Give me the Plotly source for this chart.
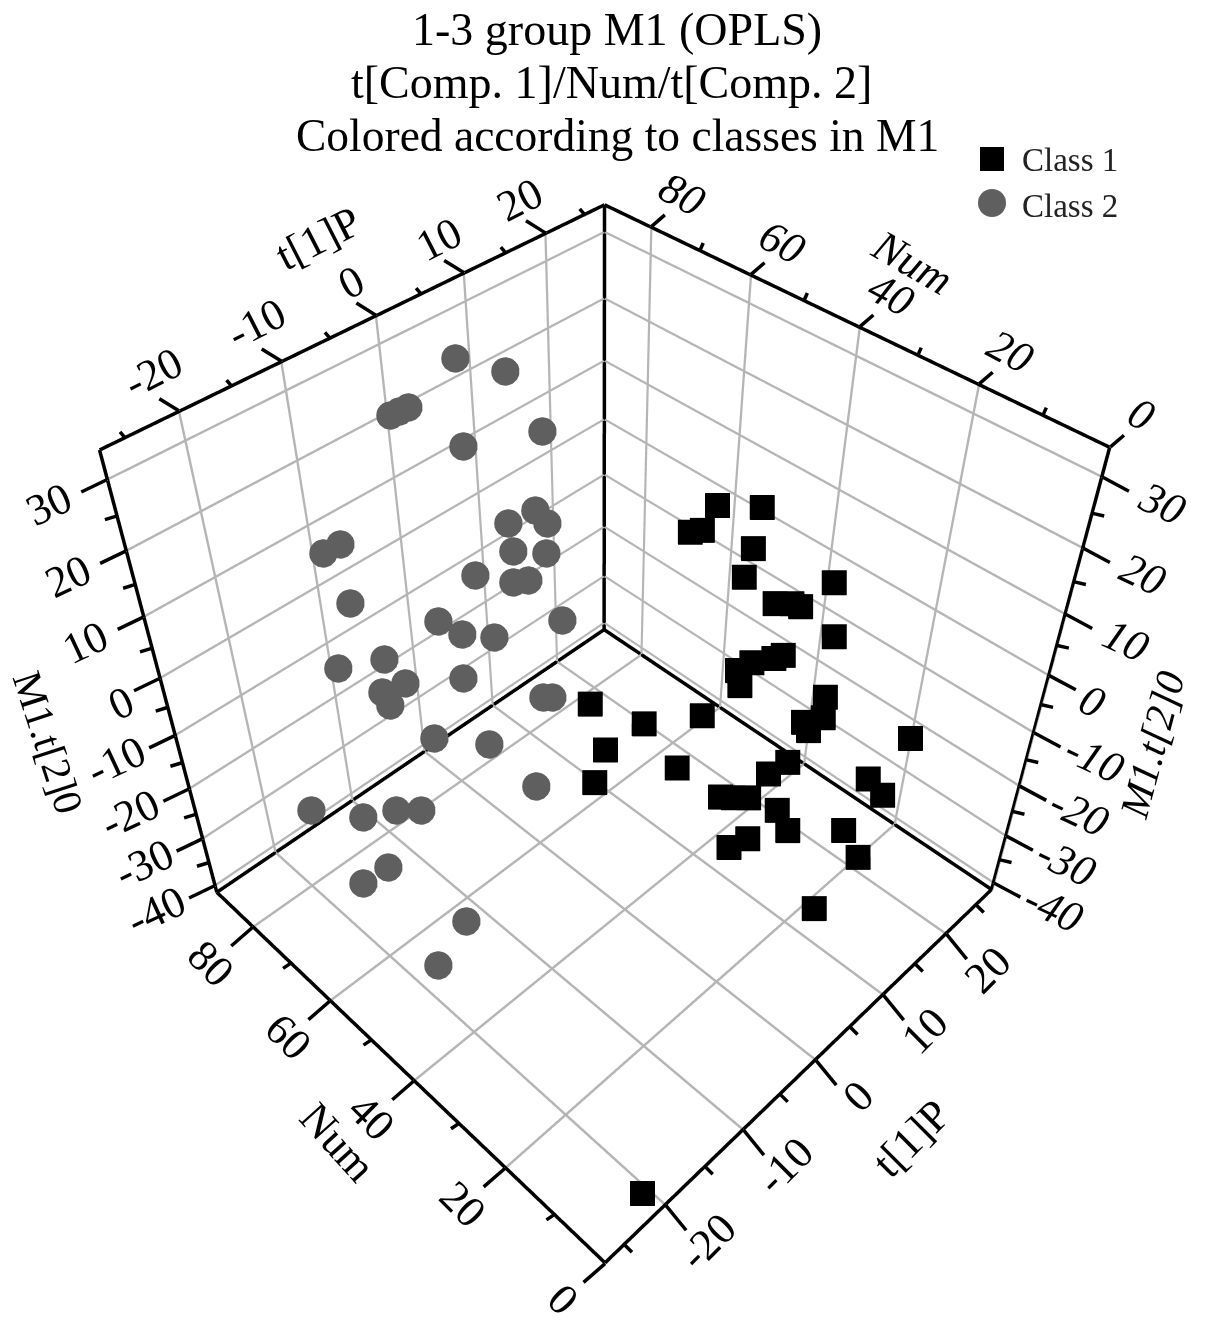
import plotly.graph_objects as go

W, H = 1205, 1329
T_RANGE = [-27.3, 27.7]
NUM_RANGE = [0.0, 90.0]
Z_RANGE = [-41.5, 34.0]

class1_t = [14.4,15.4,12.5,12.9,13.4,12.0,14.0,11.7,12.2,12.1,11.8,9.9,9.6,8.9,8.3,7.8,10.7,10.7,9.6,9.9,16.8,14.2,15.5,-1.1,0.5,4.8,-4.1,-7.4,-1.3,8.4,6.0,0.5,1.6,3.0,5.1,5.2,10.9,1.0,-1.1,11.4,4.7,-21.8]
class1_num = [45.5,38.7,47.7,46.0,37.1,36.5,23.5,30.3,26.5,27.9,19.9,25.8,27.0,29.9,31.6,30.3,18.8,18.7,20.7,20.0,10.1,13.3,11.7,45.9,37.6,32.8,37.9,34.6,28.4,21.2,21.5,22.7,21.9,20.9,18.2,16.1,12.7,17.9,18.4,10.0,9.2,1.8]
class1_z = [15.2,17.3,11.5,12.3,13.4,10.4,14.5,9.7,10.8,10.6,10.0,5.5,4.6,2.9,1.2,-0.1,1.9,-1.5,-2.4,-3.7,-6.0,-12.6,-16.0,-3.8,-3.8,-3.8,-3.8,-3.8,-3.8,-8.5,-8.2,-7.1,-7.9,-8.8,-11.6,-14.0,-18.2,-11.9,-11.4,-22.1,-23.4,-37.3]
class2_t = [4.35,8.13,-4.13,-2.23,-3.19,0.6,8.58,1.2,4.31,4.92,0.49,3.58,-4.01,-0.77,0.75,-15.85,-14.13,-15.8,2.57,-9.15,-7.52,-4.69,-18.25,-15.24,-9.08,-15.88,-14.38,-15.5,-12.92,-3.48,-2.92,-10.7,-11.11,-21.17,-18.98,-17.45,-16.53,-20.2,-21.74,-19.67,-22.36]
class2_num = [81.97,78.41,79.92,79.79,79.85,74.03,71.67,66.31,66.07,64.66,64.18,62.68,64.14,62.14,61.66,71.91,71.85,67.32,57.82,62.66,60.91,59.47,66.44,62.4,58.25,62.39,60.16,61.79,58.07,51.65,50.72,50.24,39.89,72.39,64.13,59.03,54.98,56.38,59.75,40.08,41.82]
class2_z = [28.39,25.48,26.75,26.64,26.7,21.47,19.07,12.89,12.59,10.75,10.1,8.0,10.05,7.22,6.5,19.32,19.27,14.15,0.31,7.97,5.36,3.09,6.69,7.6,1.05,2.86,4.2,0.67,-5.32,-3.75,-3.75,-3.75,-3.92,-19.01,-17.16,-14.08,-12.36,-19.86,-23.62,-18.66,-25.24]

t_ticks = [-20,-10,0,10,20]
t_minor = [-25,-15,-5,5,15,25]
num_ticks = [0,20,40,60,80]
num_minor = [10,30,50,70]
z_ticks = [-40,-30,-20,-10,0,10,20,30]
z_minor = [-35,-25,-15,-5,5,15,25]

SERIF = "Liberation Serif"
TICK_SIZE = 44
EDGE = "black"
CLASS1_COLOR = "black"
CLASS2_COLOR = "#5f5f5f"

t0, t1 = T_RANGE; n0, n1 = NUM_RANGE; z0, z1 = Z_RANGE
# box edges sit a hair inside the ranges so that the scene does not clip them
a0, a1 = t0 + 0.04, t1 - 0.04
b0, b1 = n0 + 0.06, n1 - 0.06
c0, c1 = z0 + 0.05, z1 - 0.05
edges = [
    ((a0,b1,c1),(a1,b1,c1)), ((a1,b1,c1),(a1,b0,c1)), ((a0,b1,c1),(a0,b1,c0)),
    ((a1,b0,c1),(a1,b0,c0)), ((a0,b1,c0),(a0,b0,c0)), ((a0,b0,c0),(a1,b0,c0)),
    ((a0,b1,c0),(a1,b1,c0)), ((a1,b1,c0),(a1,b0,c0)), ((a1,b1,c1),(a1,b1,c0)),
]
ex, ey, ez = [], [], []
for a, b in edges:
    ex += [a[0], b[0], None]; ey += [a[1], b[1], None]; ez += [a[2], b[2], None]

fig = go.Figure()
fig.add_trace(go.Scatter3d(x=class2_t, y=class2_num, z=class2_z, mode="markers", name="Class 2",
                           marker=dict(symbol="circle", size=16.5, color=CLASS2_COLOR, line=dict(width=0)), hoverinfo="skip"))
fig.add_trace(go.Scatter3d(x=class1_t, y=class1_num, z=class1_z, mode="markers", name="Class 1",
                           marker=dict(symbol="square", size=13, color=CLASS1_COLOR, line=dict(width=0)), hoverinfo="skip"))
fig.add_trace(go.Scatter3d(x=ex, y=ey, z=ez, mode="lines", line=dict(color=EDGE, width=7),
                           showlegend=False, hoverinfo="skip"))

ann = []
def tick(x, y, z, dx, dy, w=3.5):
    ann.append(dict(x=x, y=y, z=z, text=" ", showarrow=True, arrowhead=0, arrowwidth=w, arrowcolor=EDGE,
                    ax=dx, ay=dy, font=dict(size=1)))
def label(x, y, z, text, dx, dy, angle, style="normal"):
    ann.append(dict(x=x, y=y, z=z, text=text, showarrow=False, xshift=dx, yshift=-dy, textangle=angle,
                    font=dict(family=SERIF, size=TICK_SIZE, color="black", style=style)))

for v in t_ticks:
    tick(v, n1, z1, -21, -13); label(v, n1, z1, str(v), -25, -38 if v < 0 else -33, -27)
    tick(v, n0, z0, 22, 27); label(v, n0, z0, str(v), 42, 36, -45)
for v in t_minor:
    tick(v, n1, z1, -6, -7); tick(v, n0, z0, 9, 9)
for v in num_ticks:
    tick(t1, v, z1, 15, -13); label(t1, v, z1, str(v), 31, -32, 28, "italic")
    tick(t0, v, z0, -23, 20); label(t0, v, z0, str(v), -42, 36, 45)
for v in num_minor:
    tick(t1, v, z1, 4, -9); tick(t0, v, z0, -9, 6)
for v in z_ticks:
    off = 39 if v == 0 else 58
    tick(t0, n1, v, -27, 13); label(t0, n1, v, str(v), -off, 25, -25)
    off = 43 if v == 0 else 60
    tick(t1, n0, v, 28, 15); label(t1, n0, v, str(v), off, 26, 25, "italic")
for v in z_minor:
    tick(t0, n1, v, -13, 4); tick(t1, n0, v, 13, 3)

axis = dict(showticklabels=False, ticks="", showbackground=False, gridcolor="#b5b5b5", gridwidth=5,
            zeroline=False, showline=False, title="", showspikes=False, autorange=False)

def paper(text, px, py, size, angle=0, style="normal"):
    return dict(xref="paper", yref="paper", x=px/W, y=1-py/H, text=text, showarrow=False, textangle=angle,
                xanchor="center", yanchor="middle", font=dict(family=SERIF, size=size, color="black", style=style))

def key_shape(kind, cx, cy, r, color):
    return dict(type=kind, xref="paper", yref="paper", x0=(cx-r)/W, x1=(cx+r)/W, y0=1-(cy+r)/H, y1=1-(cy-r)/H,
                fillcolor=color, line=dict(width=0), layer="above")

fig.update_layout(
    width=W, height=H, margin=dict(l=0, r=0, t=0, b=0), paper_bgcolor="white",
    legend=dict(x=973/W, y=1-130/H, xanchor="left", yanchor="top", itemwidth=39,
                font=dict(family=SERIF, size=33, color="#222222"),
                bgcolor="rgba(0,0,0,0)", traceorder="reversed"),
    shapes=[key_shape("rect", 992, 159, 12, CLASS1_COLOR), key_shape("circle", 992, 203, 14, CLASS2_COLOR)],
    scene=dict(
        domain=dict(x=[0, 1], y=[0, 1]), aspectmode="manual",
        aspectratio=dict(x=1.006, y=1.0016, z=0.9924),
        camera=dict(eye=dict(x=-1.3055, y=-1.2941, z=1.8302), center=dict(x=0.0247, y=0.0298, z=0.0402), up=dict(x=0, y=0, z=1)),
        xaxis=dict(axis, range=T_RANGE, tick0=0, dtick=10),
        yaxis=dict(axis, range=NUM_RANGE, tick0=0, dtick=20),
        zaxis=dict(axis, range=Z_RANGE, tick0=0, dtick=10),
        annotations=ann,
    ),
    annotations=[
        paper("1-3 group M1 (OPLS)", 617, 30, 46),
        paper("t[Comp. 1]/Num/t[Comp. 2]", 611, 83, 46),
        paper("Colored according to classes in M1", 617, 135, 45.5),
        paper("t[1]P", 318, 238, 44, -27),
        paper("Num", 912, 263, 44, 30, "italic"),
        paper("M1.t[2]0", 48, 742, 41, 72),
        paper("M1.t[2]0", 1152, 745, 41, -75, "italic"),
        paper("Num", 338, 1142, 44, 48),
        paper("t[1]P", 911, 1138, 44, -45),
    ],
)
fig.write_html("out.html", post_script="document.body.style.margin='0';", config=dict(displayModeBar=False))
